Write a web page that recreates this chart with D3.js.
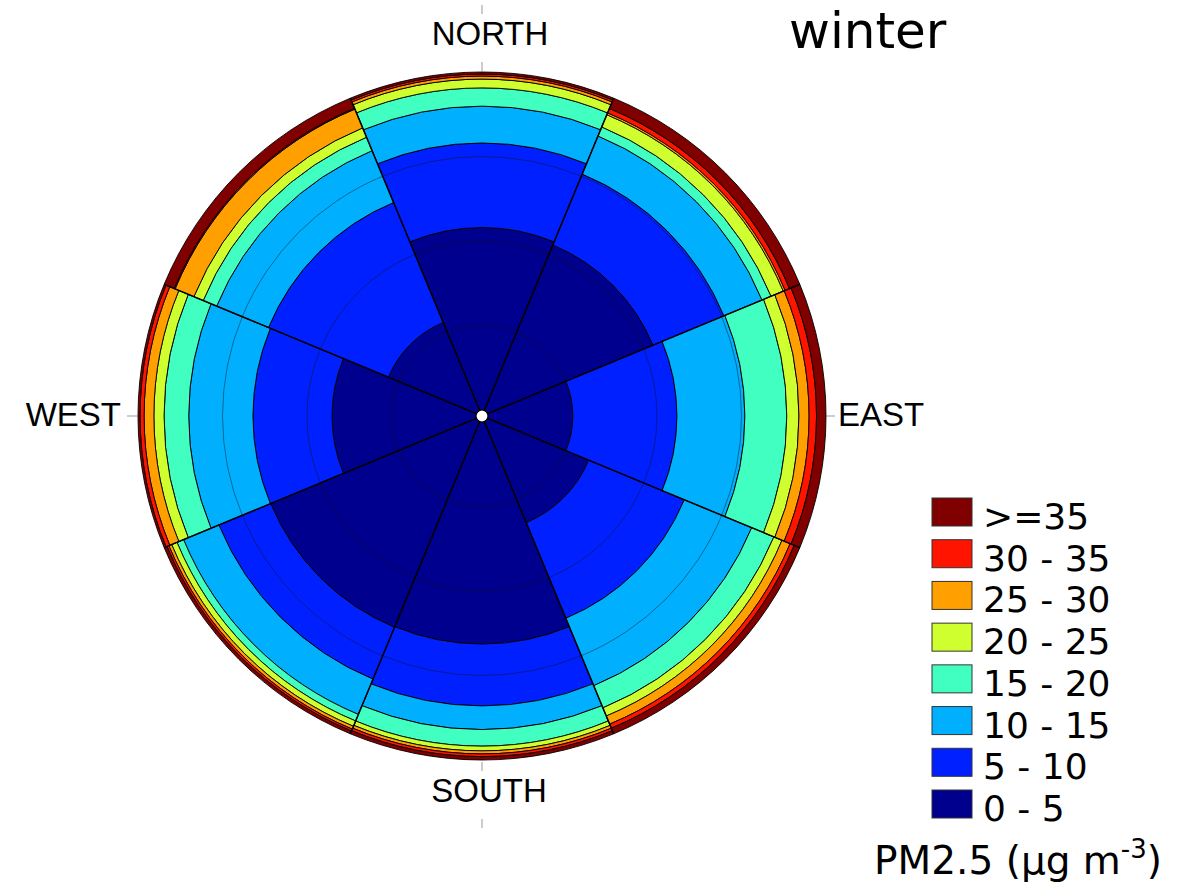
<!DOCTYPE html>
<html>
<head>
<meta charset="utf-8">
<script src="https://cdn.jsdelivr.net/npm/d3@7"></script>
<style>
  html, body { margin: 0; padding: 0; background: #fff; }
  svg { display: block; }
</style>
</head>
<body>
<svg id="chart" width="1188" height="891"></svg>
<script>
// ---- data ----
const directions = ["N", "NE", "E", "SE", "S", "SW", "W", "NW"];
const categories = ["0 - 5", "5 - 10", "10 - 15", "15 - 20", "20 - 25", "25 - 30", "30 - 35", ">=35"];
const categoryColors = ["#00008F", "#0020FF", "#00B0FF", "#40FFC0", "#D0FF30", "#FFA000", "#FF1400", "#800000"];
// percentage of observations in each concentration band, per wind direction
const pct_0_5   = [54.0, 53.0, 25.1, 32.4, 65.7, 65.9, 42.6, 28.2];
const pct_5_10  = [25.0, 22.7, 30.8, 30.6, 18.3, 16.6, 23.4, 38.4];
const pct_10_15 = [10.9, 12.2, 20.1, 21.6,  7.0, 11.3, 19.0, 16.6];
const pct_15_20 = [ 5.4,  2.9, 12.4,  7.1,  4.9,  2.1,  7.3,  4.3];
const pct_20_25 = [ 2.6,  3.9,  3.6,  2.6,  1.4,  1.7,  3.0,  3.0];
const pct_25_30 = [ 0.9,  0.6,  3.0,  2.6,  0.9,  0.9,  2.9,  6.0];
const pct_30_35 = [ 0.6,  1.4,  2.2,  1.3,  0.8,  0.6,  1.2,  0.3];
const pct_35up  = [ 0.6,  3.3,  2.8,  1.8,  1.0,  0.9,  0.6,  3.2];
const gridValues = [25, 50, 75];
const compassLabels = ["NORTH", "EAST", "SOUTH", "WEST"];
const titleText = "winter";

// ---- build table ----
const series = [pct_0_5, pct_5_10, pct_10_15, pct_15_20, pct_20_25, pct_25_30, pct_30_35, pct_35up];
const rows = directions.map((d, i) => {
  const o = { dir: d };
  categories.forEach((c, k) => { o[c] = series[k][i]; });
  return o;
});
const stacked = d3.stack().keys(categories)(rows);

// ---- layout ----
const svg = d3.select("#chart");
const cx = 482, cy = 416;
const r = d3.scaleLinear().domain([0, 100]).range([6, 344]);
const angle = d3.scaleBand().domain(directions).range([-Math.PI / 8, 2 * Math.PI - Math.PI / 8]).padding(0);
const color = d3.scaleOrdinal().domain(categories).range(categoryColors);

const g = svg.append("g").attr("transform", `translate(${cx},${cy})`);

const arc = d3.arc()
  .innerRadius(d => r(d[0]))
  .outerRadius(d => r(d[1]))
  .startAngle(d => angle(d.data.dir))
  .endAngle(d => angle(d.data.dir) + angle.bandwidth());

stacked.forEach(layer => {
  g.append("g").selectAll("path")
    .data(layer)
    .join("path")
    .attr("d", arc)
    .attr("fill", color(layer.key))
    .attr("stroke", "#000")
    .attr("stroke-width", 0.9)
    .attr("stroke-linejoin", "round");
});

// grid circles
g.append("g").selectAll("circle")
  .data(gridValues)
  .join("circle")
  .attr("r", d => r(d))
  .attr("fill", "none")
  .attr("stroke", "#111")
  .attr("stroke-opacity", 0.45)
  .attr("stroke-width", 1);

// sector boundary lines
const totals = rows.map(row => d3.sum(categories, c => row[c]));
const edgeR = i => r(Math.max(totals[i], totals[(i + directions.length - 1) % directions.length]));
g.append("g").selectAll("line")
  .data(directions)
  .join("line")
  .attr("x1", 0).attr("y1", 0)
  .attr("x2", (d, i) => edgeR(i) * Math.sin(angle(d)))
  .attr("y2", (d, i) => -edgeR(i) * Math.cos(angle(d)))
  .attr("stroke", "#000")
  .attr("stroke-width", 1.5);

// centre hole
g.append("circle").attr("r", r(0)).attr("fill", "#fff").attr("stroke", "#000").attr("stroke-width", 1.2);

// compass labels + ticks
const tickColor = "#999";
const labelFont = "'Liberation Sans', Arial, sans-serif";
svg.append("text").attr("x", 490).attr("y", 45).attr("text-anchor", "middle")
  .attr("font-family", labelFont).attr("font-size", 33).text(compassLabels[0]);
svg.append("text").attr("x", 489).attr("y", 802).attr("text-anchor", "middle")
  .attr("font-family", labelFont).attr("font-size", 33).text(compassLabels[2]);
svg.append("text").attr("x", 838).attr("y", 426).attr("text-anchor", "start")
  .attr("font-family", labelFont).attr("font-size", 33).text(compassLabels[1]);
svg.append("text").attr("x", 121).attr("y", 426).attr("text-anchor", "end")
  .attr("font-family", labelFont).attr("font-size", 33).text(compassLabels[3]);

const ticks = [
  [cx, 5, cx, 14], [cx, 62, cx, 71],
  [cx, 762, cx, 771], [cx, 819, cx, 828],
  [827, cy, 835, cy], [127, cy, 137, cy]
];
svg.append("g").selectAll("line").data(ticks).join("line")
  .attr("x1", d => d[0]).attr("y1", d => d[1]).attr("x2", d => d[2]).attr("y2", d => d[3])
  .attr("stroke", tickColor).attr("stroke-width", 1);

// title
svg.append("text").attr("x", 789).attr("y", 48)
  .attr("font-family", "'DejaVu Sans', Verdana, sans-serif").attr("font-size", 50)
  .text(titleText);

// legend
const legendFont = "'DejaVu Sans', Verdana, sans-serif";
const legendCats = categories.slice().reverse();
const lg = svg.append("g");
const ly = d3.scalePoint().domain(legendCats).range([498, 790]);
lg.selectAll("rect").data(legendCats).join("rect")
  .attr("x", 932).attr("y", d => ly(d)).attr("width", 40).attr("height", 28)
  .attr("fill", d => color(d)).attr("stroke", "#333").attr("stroke-width", 1);
lg.selectAll("text").data(legendCats).join("text")
  .attr("x", 983).attr("y", d => ly(d) + 31)
  .attr("font-family", legendFont).attr("font-size", 36)
  .text(d => d);

const unit = svg.append("text").attr("x", 1162).attr("y", 874).attr("text-anchor", "end")
  .attr("font-family", legendFont).attr("font-size", 39);
unit.append("tspan").text("PM2.5 (\u03BCg m");
unit.append("tspan").attr("dy", -16).attr("font-size", 26).text("-3");
unit.append("tspan").attr("dy", 16).text(")");
</script>
</body>
</html>
